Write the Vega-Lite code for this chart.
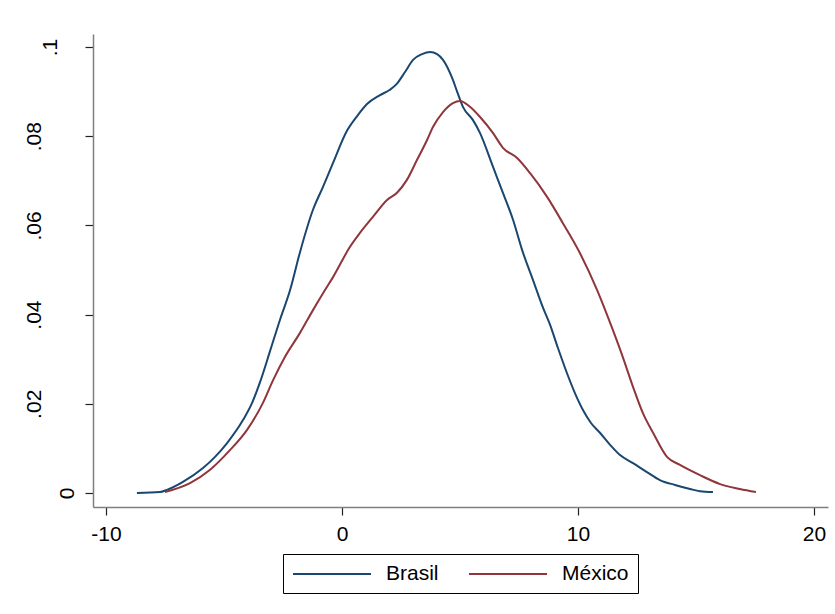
{
  "$schema": "https://vega.github.io/schema/vega-lite/v6.json",
  "autosize": {"type": "none"},
  "padding": {"left": 93, "top": 34, "right": 7, "bottom": 107},
  "width": 735,
  "height": 473,
  "background": "white",
  "config": {
    "view": {"stroke": null},
    "font": "Liberation Sans"
  },
  "data": {
    "values": [
      {"pais": "Brasil", "x": -8.69, "y": 0.0},
      {"pais": "Brasil", "x": -7.71, "y": 0.0002},
      {"pais": "Brasil", "x": -7.42, "y": 0.0007},
      {"pais": "Brasil", "x": -6.74, "y": 0.0025},
      {"pais": "Brasil", "x": -5.89, "y": 0.0056},
      {"pais": "Brasil", "x": -5.38, "y": 0.0081},
      {"pais": "Brasil", "x": -4.87, "y": 0.0112},
      {"pais": "Brasil", "x": -4.19, "y": 0.0164},
      {"pais": "Brasil", "x": -3.81, "y": 0.0202},
      {"pais": "Brasil", "x": -3.47, "y": 0.0249},
      {"pais": "Brasil", "x": -3.05, "y": 0.0318},
      {"pais": "Brasil", "x": -2.63, "y": 0.0388},
      {"pais": "Brasil", "x": -2.20, "y": 0.0455},
      {"pais": "Brasil", "x": -1.78, "y": 0.0540},
      {"pais": "Brasil", "x": -1.23, "y": 0.0635},
      {"pais": "Brasil", "x": -0.81, "y": 0.0686},
      {"pais": "Brasil", "x": -0.38, "y": 0.0740},
      {"pais": "Brasil", "x": 0.21, "y": 0.0812},
      {"pais": "Brasil", "x": 0.64, "y": 0.0845},
      {"pais": "Brasil", "x": 1.06, "y": 0.0872},
      {"pais": "Brasil", "x": 1.61, "y": 0.0892},
      {"pais": "Brasil", "x": 2.03, "y": 0.0904},
      {"pais": "Brasil", "x": 2.30, "y": 0.0916},
      {"pais": "Brasil", "x": 2.67, "y": 0.0944},
      {"pais": "Brasil", "x": 3.01, "y": 0.0971},
      {"pais": "Brasil", "x": 3.39, "y": 0.0984},
      {"pais": "Brasil", "x": 3.73, "y": 0.0989},
      {"pais": "Brasil", "x": 4.03, "y": 0.0984},
      {"pais": "Brasil", "x": 4.28, "y": 0.0971},
      {"pais": "Brasil", "x": 4.70, "y": 0.0926},
      {"pais": "Brasil", "x": 4.87, "y": 0.0901},
      {"pais": "Brasil", "x": 5.13, "y": 0.0865},
      {"pais": "Brasil", "x": 5.55, "y": 0.0836},
      {"pais": "Brasil", "x": 5.85, "y": 0.0807},
      {"pais": "Brasil", "x": 6.40, "y": 0.0731},
      {"pais": "Brasil", "x": 6.82, "y": 0.0673},
      {"pais": "Brasil", "x": 7.25, "y": 0.0612},
      {"pais": "Brasil", "x": 7.63, "y": 0.0545},
      {"pais": "Brasil", "x": 8.09, "y": 0.0478},
      {"pais": "Brasil", "x": 8.52, "y": 0.0415},
      {"pais": "Brasil", "x": 8.81, "y": 0.0378},
      {"pais": "Brasil", "x": 9.15, "y": 0.0325},
      {"pais": "Brasil", "x": 9.53, "y": 0.0269},
      {"pais": "Brasil", "x": 9.87, "y": 0.0224},
      {"pais": "Brasil", "x": 10.21, "y": 0.0186},
      {"pais": "Brasil", "x": 10.55, "y": 0.0157},
      {"pais": "Brasil", "x": 10.93, "y": 0.0135},
      {"pais": "Brasil", "x": 11.36, "y": 0.0108},
      {"pais": "Brasil", "x": 11.78, "y": 0.0085},
      {"pais": "Brasil", "x": 12.33, "y": 0.0067},
      {"pais": "Brasil", "x": 12.92, "y": 0.0047},
      {"pais": "Brasil", "x": 13.47, "y": 0.0029},
      {"pais": "Brasil", "x": 14.11, "y": 0.0018},
      {"pais": "Brasil", "x": 14.75, "y": 0.0009},
      {"pais": "Brasil", "x": 15.17, "y": 0.0004},
      {"pais": "Brasil", "x": 15.72, "y": 0.0002},
      {"pais": "México", "x": -7.50, "y": 0.0002},
      {"pais": "México", "x": -6.44, "y": 0.0022},
      {"pais": "México", "x": -5.59, "y": 0.0052},
      {"pais": "México", "x": -4.75, "y": 0.0096},
      {"pais": "México", "x": -4.03, "y": 0.0141},
      {"pais": "México", "x": -3.35, "y": 0.0202},
      {"pais": "México", "x": -2.92, "y": 0.0253},
      {"pais": "México", "x": -2.42, "y": 0.0305},
      {"pais": "México", "x": -1.78, "y": 0.0359},
      {"pais": "México", "x": -1.23, "y": 0.0410},
      {"pais": "México", "x": -0.72, "y": 0.0455},
      {"pais": "México", "x": -0.38, "y": 0.0484},
      {"pais": "México", "x": 0.34, "y": 0.0552},
      {"pais": "México", "x": 0.76, "y": 0.0583},
      {"pais": "México", "x": 1.31, "y": 0.0619},
      {"pais": "México", "x": 1.91, "y": 0.0657},
      {"pais": "México", "x": 2.33, "y": 0.0673},
      {"pais": "México", "x": 2.75, "y": 0.0702},
      {"pais": "México", "x": 3.18, "y": 0.0747},
      {"pais": "México", "x": 3.60, "y": 0.0791},
      {"pais": "México", "x": 3.86, "y": 0.0821},
      {"pais": "México", "x": 4.28, "y": 0.0854},
      {"pais": "México", "x": 4.70, "y": 0.0874},
      {"pais": "México", "x": 5.00, "y": 0.0879},
      {"pais": "México", "x": 5.42, "y": 0.0866},
      {"pais": "México", "x": 5.85, "y": 0.0843},
      {"pais": "México", "x": 6.40, "y": 0.0807},
      {"pais": "México", "x": 6.82, "y": 0.0774},
      {"pais": "México", "x": 7.42, "y": 0.0751},
      {"pais": "México", "x": 7.97, "y": 0.0717},
      {"pais": "México", "x": 8.69, "y": 0.0664},
      {"pais": "México", "x": 9.36, "y": 0.0605},
      {"pais": "México", "x": 10.08, "y": 0.0538},
      {"pais": "México", "x": 10.81, "y": 0.0455},
      {"pais": "México", "x": 11.48, "y": 0.0365},
      {"pais": "México", "x": 11.91, "y": 0.0303},
      {"pais": "México", "x": 12.33, "y": 0.0238},
      {"pais": "México", "x": 12.75, "y": 0.0179},
      {"pais": "México", "x": 13.18, "y": 0.0135},
      {"pais": "México", "x": 13.77, "y": 0.0081},
      {"pais": "México", "x": 14.32, "y": 0.0063},
      {"pais": "México", "x": 15.17, "y": 0.0040},
      {"pais": "México", "x": 16.02, "y": 0.0020},
      {"pais": "México", "x": 16.86, "y": 0.0009},
      {"pais": "México", "x": 17.54, "y": 0.0002}
    ]
  },
  "mark": {"type": "line", "strokeWidth": 2, "interpolate": "monotone"},
  "encoding": {
    "x": {
      "field": "x",
      "type": "quantitative",
      "scale": {"domain": [-10.551, 20.593], "nice": false, "zero": false},
      "axis": {
        "title": null,
        "values": [-10, 0, 10, 20],
        "labelExpr": "datum.value < 0 ? '-' + format(-datum.value, 'd') : format(datum.value, 'd')",
        "grid": false,
        "domainColor": "#7f7f7f",
        "domainWidth": 1.5,
        "tickColor": "#222222",
        "tickWidth": 1.2,
        "tickSize": 8,
        "labelFontSize": 21,
        "labelColor": "#000000",
        "labelPadding": 8,
        "labelFlush": false,
        "labelOverlap": false
      }
    },
    "y": {
      "field": "y",
      "type": "quantitative",
      "scale": {"domain": [-0.00314, 0.10291], "nice": false, "zero": false},
      "axis": {
        "title": null,
        "values": [0, 0.02, 0.04, 0.06, 0.08, 0.1],
        "labelExpr": "datum.value == 0 ? '0' : substring(format(datum.value, '.2~f'), 1)",
        "grid": false,
        "domainColor": "#7f7f7f",
        "domainWidth": 1.5,
        "tickColor": "#222222",
        "tickWidth": 1.2,
        "tickSize": 8,
        "labelFontSize": 21,
        "labelColor": "#000000",
        "labelAngle": -90,
        "labelAlign": "center",
        "labelBaseline": "alphabetic",
        "labelPadding": {
          "condition": [
            {"test": "datum.value == 0", "value": 12},
            {"test": "datum.value > 0.09", "value": 29}
          ],
          "value": 45
        },
        "labelFlush": false,
        "labelOverlap": false
      }
    },
    "color": {
      "field": "pais",
      "type": "nominal",
      "scale": {"domain": ["Brasil", "México"], "range": ["#1a476f", "#90353b"]},
      "legend": {
        "title": null,
        "orient": "none",
        "legendX": 190,
        "legendY": 520,
        "direction": "horizontal",
        "symbolType": "M-1,0H6.8",
        "symbolSize": 400,
        "symbolStrokeWidth": 2,
        "labelFontSize": 21,
        "labelColor": "#000000",
        "labelOffset": 72,
        "columnPadding": 26,
        "padding": 9,
        "strokeColor": "#000000",
        "fillColor": "white"
      }
    }
  }
}
